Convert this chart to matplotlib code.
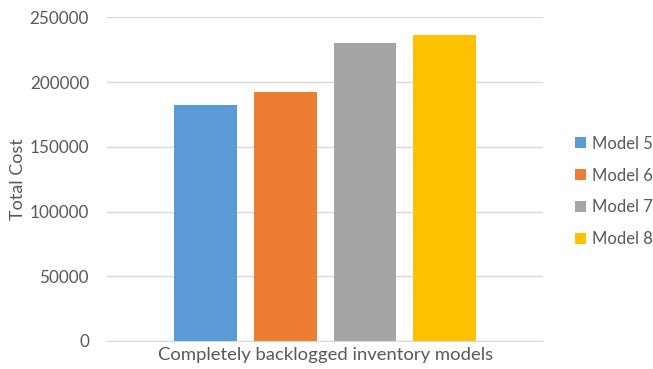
import matplotlib
matplotlib.use("Agg")
import matplotlib.pyplot as plt
import numpy as np

plt.rcParams['font.family'] = ['Lato', 'DejaVu Sans']

# total cost per model, completely backlogged case
models = ["Model 5", "Model 6", "Model 7", "Model 8"]
total_cost = [182000, 192000, 230000, 236500]
colors = ["#5B9BD5", "#ED7D31", "#A5A5A5", "#FFC000"]
y_ticks = [0, 50000, 100000, 150000, 200000, 250000]

text_color = "#595959"
grid_color = "#D9D9D9"

fig = plt.figure(figsize=(6.53, 3.69), dpi=100)
ax = fig.add_axes([0.164, 0.076, 0.668, 0.877])

x = np.arange(len(models))
for i in range(len(models)):
    ax.bar(x[i], total_cost[i], width=0.79, color=colors[i], label=models[i], zorder=3)

ax.set_xlim(-1.24, 4.24)
ax.set_ylim(0, 250000)
ax.set_yticks(y_ticks)
ax.set_yticklabels([str(v) for v in y_ticks])
ax.set_xticks([])
ax.yaxis.grid(True, color=grid_color, linewidth=1, zorder=0)
ax.tick_params(axis='y', length=0, pad=13, labelsize=12.3, labelcolor=text_color)

for side in ["top", "right", "left"]:
    ax.spines[side].set_visible(False)
ax.spines["bottom"].set_color(grid_color)

ax.set_xlabel("Completely backlogged inventory models", fontsize=13.3, color=text_color)
ax.set_ylabel("Total Cost", fontsize=13, color=text_color)
ax.xaxis.set_label_coords(0.5, -0.043)
ax.yaxis.set_label_coords(-0.204, 0.5)
ax.xaxis.label.set_va("center")
ax.yaxis.label.set_va("center")

fig.legend(loc="center left", bbox_to_anchor=(0.881, 0.481), frameon=False,
           fontsize=12, labelcolor=text_color, handlelength=0.65, handleheight=0.65,
           handletextpad=0.35, labelspacing=0.95, borderpad=0, borderaxespad=0)

fig.savefig("out.png", dpi=100)
